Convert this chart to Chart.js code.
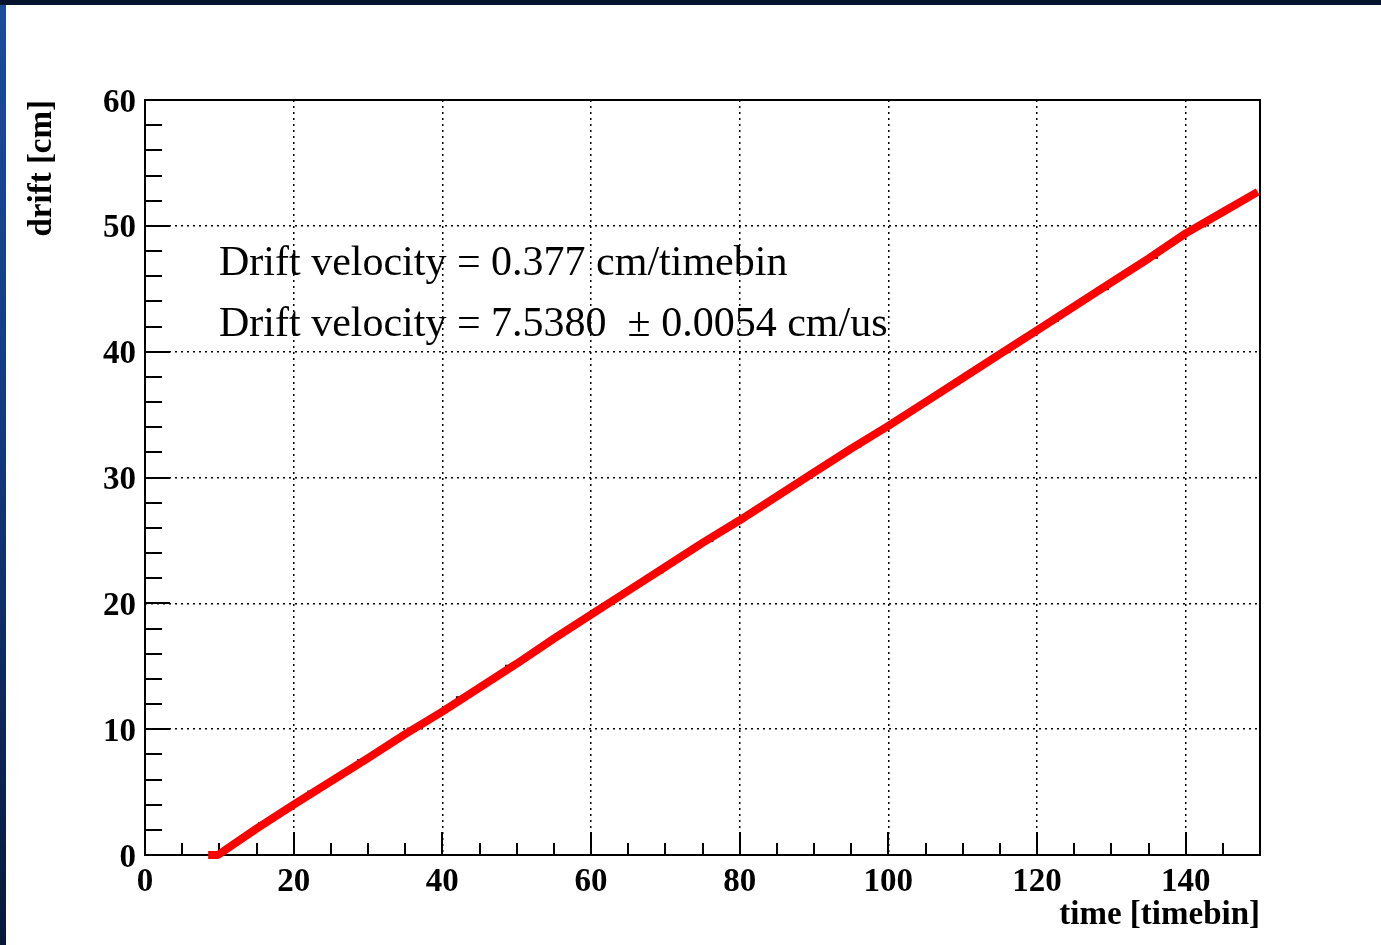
<!DOCTYPE html>
<html lang="en">
<head>
  <meta charset="UTF-8" />
  <title>Drift velocity</title>
  <script src="https://cdn.jsdelivr.net/npm/chart.js"></script>
  <style>
    html, body { margin: 0; padding: 0; }
    body {
      background-color: #05132d;
      width: 1381px;
      height: 945px;
      overflow: hidden;
      position: relative;
    }
    .edge {
      position: absolute;
      left: 0; top: 5px;
      width: 6px; height: 940px;
      background: linear-gradient(#1c4b9e, #123a80 45%, #07183a);
    }
    .pad {
      position: absolute;
      left: 6px; top: 5px;
      width: 1375px; height: 940px;
      background-color: #fff;
    }
  </style>
</head>
<body>
  <div class="edge"></div>
  <div class="pad"><canvas id="driftChart"></canvas></div>

  <script>
    // fitted drift line (time in timebins, drift in cm)
    const fitTime  = [8.5, 9.8, 15, 20, 25, 30, 35, 40, 45, 50, 55, 60, 65, 70, 75,
                      80, 85, 90, 95, 100, 105, 110, 115, 120, 125, 130, 135, 140, 145, 149.7];
    const fitDrift = [0, 0, 2.1, 4.0, 5.85, 7.7, 9.6, 11.4, 13.3, 15.2, 17.2, 19.1, 21.0, 22.9, 24.8,
                      26.6, 28.5, 30.4, 32.3, 34.1, 36.0, 37.9, 39.8, 41.7, 43.6, 45.5, 47.4, 49.4, 51.1, 52.7];

    // measured points
    const pointTime  = [15.9, 22.5, 29.2, 35.9, 42.5, 49.1, 55.8, 62.5, 69.1, 75.8,
                        82.4, 89.1, 95.7, 102.4, 109.0, 115.7, 122.3, 129.0, 135.6, 142.1];
    const pointDrift = [2.5, 5, 7.5, 10, 12.5, 15, 17.5, 20, 22.5, 25,
                        27.5, 30, 32.5, 35, 37.5, 40, 42.5, 45, 47.5, 50];

    const xTickLabels = [0, 20, 40, 60, 80, 100, 120, 140];
    const yTickLabels = [0, 10, 20, 30, 40, 50, 60];
    const X_MINOR = 5;
    const Y_MINOR = 2;

    const fitText = [
      "Drift velocity = 0.377 cm/timebin",
      "Drift velocity = 7.5380  \u00b1 0.0054 cm/us"
    ];

    const SERIF = '"Liberation Serif", "Times New Roman", serif';
    const axisFont = { family: SERIF, size: 33, weight: 'bold' };

    // frame, inward ticks and fit text, ROOT style
    const rootFrame = {
      id: 'rootFrame',
      beforeDatasetsDraw(chart) {
        const { ctx, chartArea: a, scales: { x, y } } = chart;
        ctx.save();
        ctx.strokeStyle = '#000';
        ctx.lineWidth = 2;
        ctx.strokeRect(a.left, a.top, a.right - a.left, a.bottom - a.top);

        ctx.beginPath();
        for (let v = x.min + X_MINOR; v < x.max; v += X_MINOR) {
          const px = Math.round(x.getPixelForValue(v));
          const len = xTickLabels.includes(v) ? 23 : 12;
          ctx.moveTo(px, a.bottom);
          ctx.lineTo(px, a.bottom - len);
        }
        for (let v = y.min + Y_MINOR; v < y.max; v += Y_MINOR) {
          const py = Math.round(y.getPixelForValue(v));
          const len = yTickLabels.includes(v) ? 25 : 17;
          ctx.moveTo(a.left, py);
          ctx.lineTo(a.left + len, py);
        }
        ctx.stroke();

        ctx.fillStyle = '#000';
        ctx.font = '42px ' + SERIF;
        ctx.textBaseline = 'alphabetic';
        fitText.forEach((t, i) => ctx.fillText(t, a.left + 74, a.top + 175 + i * 61));
        ctx.restore();
      }
    };

    const ctx = document.getElementById('driftChart').getContext('2d');
    new Chart(ctx, {
      type: 'scatter',
      data: {
        datasets: [
          {
            label: 'fit',
            data: fitTime.map((t, i) => ({ x: t, y: fitDrift[i] })),
            showLine: true,
            borderColor: '#ff0000',
            borderWidth: 8,
            borderJoinStyle: 'round',
            pointRadius: 0,
            tension: 0,
            clip: 8,
            order: 0
          },
          {
            label: 'data',
            data: pointTime.map((t, i) => ({ x: t, y: pointDrift[i] })),
            pointStyle: 'line',
            pointRadius: 5,
            borderColor: '#000',
            borderWidth: 3,
            backgroundColor: '#000',
            order: 1
          }
        ]
      },
      options: {
        responsive: true,
        maintainAspectRatio: false,
        devicePixelRatio: 1,
        animation: false,
        layout: { padding: { left: 0, top: 95, right: 121, bottom: 10 } },
        plugins: {
          legend: { display: false },
          tooltip: { enabled: false }
        },
        scales: {
          x: {
            type: 'linear',
            min: 0,
            max: 150,
            afterBuildTicks: s => { s.ticks = xTickLabels.map(v => ({ value: v })); },
            afterFit: s => { s.height = 80; },
            grid: { color: '#000', lineWidth: 1.5, drawTicks: false },
            border: { display: false, dash: [2, 4] },
            ticks: { color: '#000', padding: 8, font: axisFont, maxRotation: 0, autoSkip: false },
            title: { display: true, text: 'time [timebin]', align: 'end', color: '#000', font: axisFont, padding: 0 }
          },
          y: {
            type: 'linear',
            min: 0,
            max: 60,
            afterBuildTicks: s => { s.ticks = yTickLabels.map(v => ({ value: v })); },
            afterFit: s => { s.width = 139; },
            grid: { color: '#000', lineWidth: 1.5, drawTicks: false },
            border: { display: false, dash: [2, 4] },
            ticks: { color: '#000', padding: 9, labelOffset: 3, font: axisFont, autoSkip: false },
            title: { display: true, text: 'drift [cm]', align: 'end', color: '#000', font: axisFont, padding: { top: 17, bottom: 0 } }
          }
        }
      },
      plugins: [rootFrame]
    });
  </script>
</body>
</html>
